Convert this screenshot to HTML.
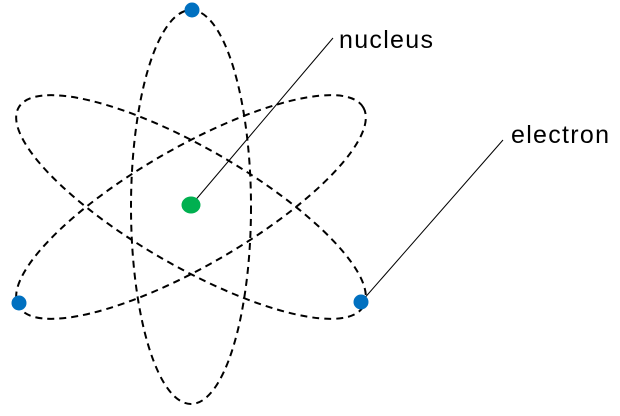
<!DOCTYPE html>
<html><head><style>html,body{margin:0;padding:0;background:#fff;}svg{display:block}</style></head>
<body>
<svg width="620" height="416" xmlns="http://www.w3.org/2000/svg">
<g fill="none" stroke="#000" stroke-width="2" stroke-dasharray="7,5">
<ellipse cx="191" cy="207" rx="60" ry="197"/>
<ellipse cx="191" cy="207" rx="199" ry="59" transform="rotate(30 191 207)"/>
<ellipse cx="191" cy="207" rx="199" ry="59" transform="rotate(-30 191 207)"/>
</g>
<g stroke="#000" stroke-width="1">
<line x1="193" y1="203" x2="333" y2="38"/>
<line x1="362" y1="301" x2="503" y2="140"/>
</g>
<ellipse cx="191" cy="205" rx="9.5" ry="8.5" fill="#00b050"/>
<g fill="#0070c0">
<circle cx="192" cy="10" r="7.5"/>
<circle cx="19" cy="303" r="7.5"/>
<circle cx="361" cy="302" r="7.5"/>
</g>
<g font-family="Liberation Sans, Arial, sans-serif" font-size="25" letter-spacing="1.3" fill="#000">
<text x="339" y="48">nucleus</text>
<text x="511" y="143">electron</text>
</g>
</svg>
</body></html>
